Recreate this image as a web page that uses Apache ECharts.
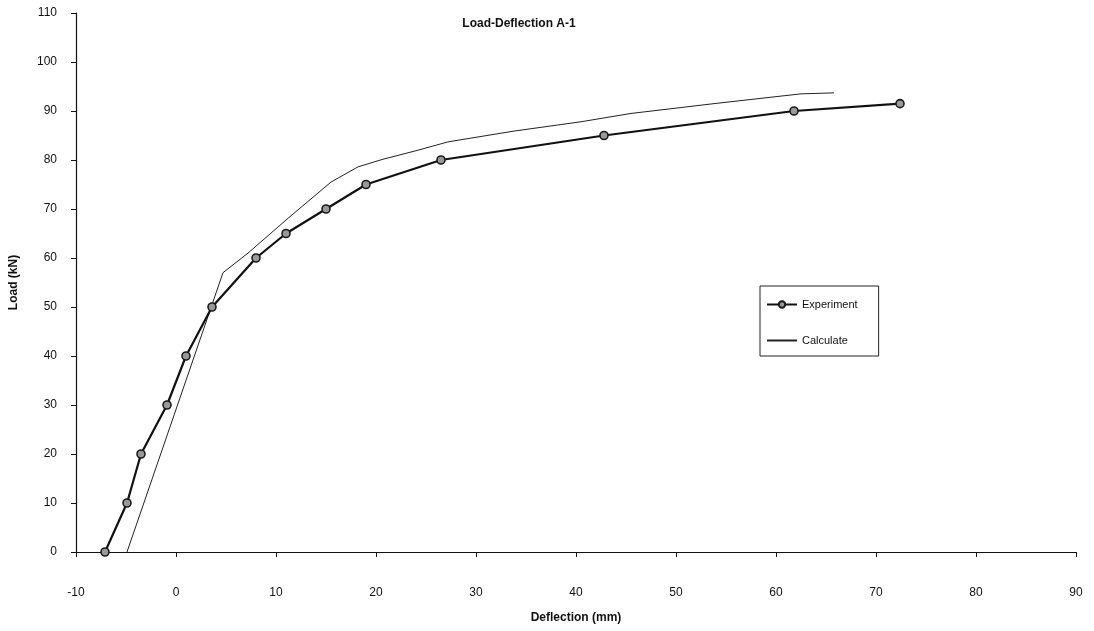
<!DOCTYPE html>
<html>
<head>
<meta charset="utf-8">
<script src="https://cdn.jsdelivr.net/npm/echarts@6/dist/echarts.min.js"></script>
<style>
html,body{margin:0;padding:0;background:#fff;}
#c{width:1094px;height:631px;}
</style>
</head>
<body>
<div id="c"></div>
<script>
// Experiment (deflection mm, load kN)
var expDeflection = [-7.1, -4.9, -3.5, -0.9, 1.0, 3.6, 8.0, 11.0, 15.0, 19.0, 26.5, 42.8, 61.8, 72.4];
var expLoad       = [0, 10, 20, 30, 40, 50, 60, 65, 70, 75, 80, 85, 90, 91.5];
// Calculate
var calcDeflection = [-4.9, 4.7, 7.2, 11.2, 15.5, 18.2, 20.6, 24.2, 27.2, 33.8, 40.5, 45.5, 54.2, 62.5, 65.8];
var calcLoad       = [0, 57, 61, 68.1, 75.5, 78.6, 80.1, 82.0, 83.7, 85.9, 87.8, 89.5, 91.6, 93.5, 93.7];
var seriesNames = ['Experiment', 'Calculate'];
var titleText = 'Load-Deflection A-1';
var xName = 'Deflection (mm)';
var yName = 'Load (kN)';

function pairs(xs, ys){ return xs.map(function(x,i){ return [x, ys[i]]; }); }

var FONT = '"Liberation Sans", Arial, sans-serif';
var chart = echarts.init(document.getElementById('c'), null, {renderer:'canvas'});
chart.setOption({
  backgroundColor: '#ffffff',
  animation: false,
  title: {
    text: titleText,
    left: 514, top: 13, textAlign: 'center',
    textStyle: {fontFamily: FONT, fontSize: 12, fontWeight: 'bold', color: '#111'}
  },
  legend: {
    orient: 'vertical',
    left: 760, top: 286,
    padding: [13, 21, 10, 6],
    itemGap: 25,
    itemWidth: 30, itemHeight: 8,
    backgroundColor: '#fff',
    borderColor: '#222', borderWidth: 1, borderRadius: 0,
    textStyle: {fontFamily: FONT, fontSize: 11, color: '#111'},
    data: [
      {name: seriesNames[0]},
      {name: seriesNames[1], itemStyle: {color: 'rgba(0,0,0,0)', borderWidth: 0, opacity: 0}}
    ]
  },
  grid: {left: 74, right: 18, top: 13, bottom: 79, containLabel: false},
  xAxis: {
    type: 'value', min: -10, max: 90, interval: 10,
    name: xName, nameLocation: 'middle', nameGap: 60,
    nameTextStyle: {fontFamily: FONT, fontSize: 12, fontWeight: 'bold', color: '#111'},
    axisLine: {onZero: false, lineStyle: {color: '#111', width: 1.2}},
    axisTick: {show: true, length: 5, inside: false, lineStyle: {color: '#111'}},
    axisLabel: {fontFamily: FONT, fontSize: 12, color: '#111', margin: 35},
    splitLine: {show: false}
  },
  yAxis: {
    type: 'value', min: 0, max: 110, interval: 10,
    name: yName, nameLocation: 'middle', nameGap: 56, nameRotate: 90,
    nameTextStyle: {fontFamily: FONT, fontSize: 12, fontWeight: 'bold', color: '#111'},
    axisLine: {show: true, onZero: false, lineStyle: {color: '#111', width: 1.2}},
    axisTick: {show: true, length: 5, inside: false, lineStyle: {color: '#111'}},
    axisLabel: {fontFamily: FONT, fontSize: 12, color: '#111', margin: 19},
    splitLine: {show: false}
  },
  series: [
    {
      name: seriesNames[0], type: 'line',
      data: pairs(expDeflection, expLoad),
      symbol: 'circle', symbolSize: 8,
      itemStyle: {color: '#999', borderColor: '#1a1a1a', borderWidth: 1.6},
      lineStyle: {color: '#111', width: 2.2},
      z: 3
    },
    {
      name: seriesNames[1], type: 'line',
      data: pairs(calcDeflection, calcLoad),
      symbol: 'none',
      itemStyle: {color: '#222'},
      lineStyle: {color: '#222', width: 1},
      z: 2
    }
  ]
});
</script>
</body>
</html>
